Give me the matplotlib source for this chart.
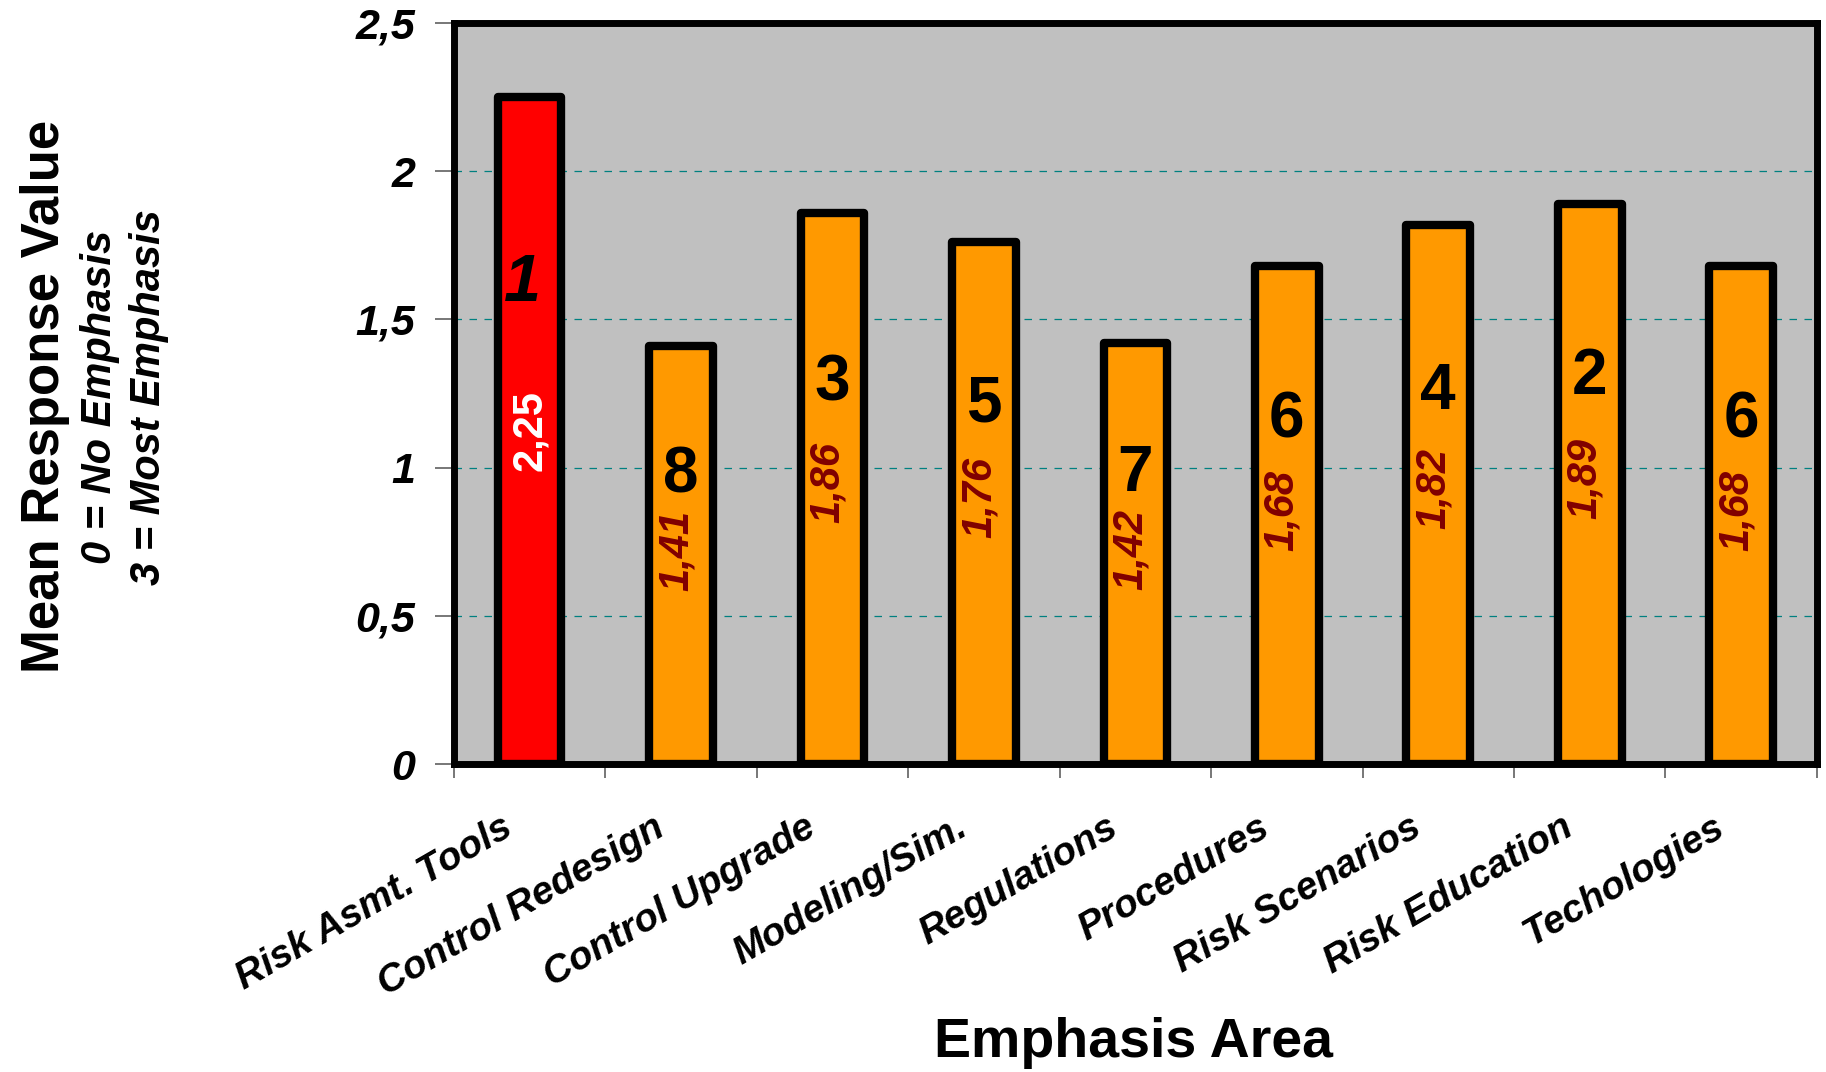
import matplotlib
matplotlib.use("Agg")
import matplotlib.pyplot as plt
import matplotlib.transforms as mtransforms
import numpy as np

categories = ["Risk Asmt. Tools", "Control Redesign", "Control Upgrade", "Modeling/Sim.",
              "Regulations", "Procedures", "Risk Scenarios", "Risk Education", "Techologies"]
values = [2.25, 1.41, 1.86, 1.76, 1.42, 1.68, 1.82, 1.89, 1.68]
value_labels = ["2,25", "1,41", "1,86", "1,76", "1,42", "1,68", "1,82", "1,89", "1,68"]
ranks = ["1", "8", "3", "5", "7", "6", "4", "2", "6"]
yticks = [0, 0.5, 1, 1.5, 2, 2.5]
ytick_labels = ["0", "0,5", "1", "1,5", "2", "2,5"]

plt.rcParams['font.family'] = ['Liberation Sans', 'DejaVu Sans']

fig = plt.figure(figsize=(18.26, 10.72), dpi=100)
ax = fig.add_axes([0.2486, 0.2873, 0.995 - 0.2486, 0.9785 - 0.2873])
ax.set_facecolor("#C0C0C0")

x = np.arange(len(categories))
colors = ["#FF0000"] + ["#FF9900"] * (len(categories) - 1)
bars = ax.bar(x, values, width=0.42, color=colors, edgecolor="black", linewidth=6, zorder=3)
for b in bars:
    b.set_joinstyle("round")

ax.set_xlim(-0.5, len(categories) - 0.5)
ax.set_ylim(0, 2.5)

# grid
for yv in yticks[1:-1]:
    ax.axhline(yv, color="#008080", linestyle=(0, (6, 6)), linewidth=0.9, zorder=1)

for sp in ax.spines.values():
    sp.set_linewidth(5)
    sp.set_color("black")
    sp.set_zorder(4)

ax.set_yticks(yticks)
ax.set_yticklabels(ytick_labels, fontsize=31, fontweight="bold", fontstyle="italic")
ax.tick_params(axis="y", direction="out", length=14, width=1.2, color="#606060", pad=14)

ax.set_xticks(np.arange(len(categories) + 1) - 0.5)
ax.set_xticklabels([""] * (len(categories) + 1))
ax.tick_params(axis="x", which="major", direction="out", length=10, width=1.2, color="#606060")
ax.set_xticks(x, minor=True)
ax.set_xticklabels(categories, minor=True, rotation=30, ha="right", va="center",
                   rotation_mode="anchor", fontsize=28, fontweight="bold", fontstyle="italic")
ax.tick_params(axis="x", which="minor", length=0, pad=44)
shift = mtransforms.ScaledTranslation(-0.2, 0, fig.dpi_scale_trans)
for lab in ax.get_xticklabels(minor=True):
    lab.set_transform(lab.get_transform() + shift)

for i, (v, vl, r) in enumerate(zip(values, value_labels, ranks)):
    if i == 0:
        ax.text(i - 0.05, v * 0.72, r, ha="center", va="center", fontsize=48,
                fontweight="bold", fontstyle="italic", color="black", zorder=5)
        ax.text(i, v * 0.5, vl, ha="center", va="center", fontsize=30, rotation=90,
                fontweight="bold", color="white", zorder=5)
    else:
        ax.text(i, v * 0.69, r, ha="center", va="center", fontsize=46,
                fontweight="bold", color="black", zorder=5)
        ax.text(i - 0.03, v * 0.51, vl, ha="center", va="center", fontsize=30, rotation=90,
                fontweight="bold", fontstyle="italic", color="#800000", zorder=5)

fig.text(0.0245, 0.63, "Mean Response Value", rotation=90, ha="center", va="center",
         fontsize=38, fontweight="bold")
fig.text(0.0545, 0.63, "0 = No Emphasis", rotation=90, ha="center", va="center",
         fontsize=30, fontweight="bold", fontstyle="italic")
fig.text(0.0815, 0.63, "3 = Most Emphasis", rotation=90, ha="center", va="center",
         fontsize=30, fontweight="bold", fontstyle="italic")
fig.text(0.6205, 0.027, "Emphasis Area", ha="center", va="center", fontsize=40, fontweight="bold")

fig.savefig("out.png", dpi=100)
